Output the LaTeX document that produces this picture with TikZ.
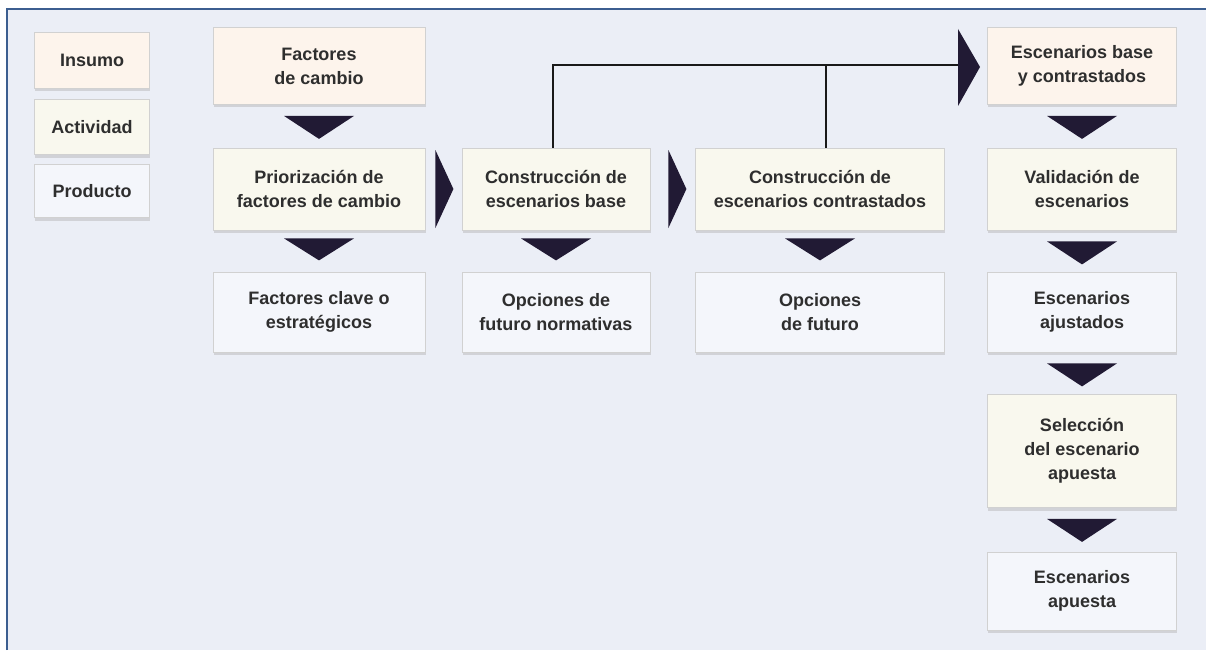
\documentclass[tikz,border=0pt]{standalone}
\usepackage{fontspec}
\setmainfont{Liberation Sans}
\usetikzlibrary{shadows,calc}
\definecolor{bgc}{HTML}{EBEEF6}
\definecolor{framec}{HTML}{3C5E90}
\definecolor{insc}{HTML}{FDF4EC}
\definecolor{actc}{HTML}{F9F8EE}
\definecolor{proc}{HTML}{F4F6FB}
\definecolor{tric}{HTML}{211A34}
\tikzset{
  box/.style={draw=black!18, line width=0.8pt, align=center, inner sep=2pt,
    font=\fontsize{18}{24}\selectfont\bfseries, text=black!82,
    drop shadow={shadow xshift=0.5pt, shadow yshift=-3pt, fill=black!30, opacity=0.45}},
  insumo/.style={box, fill=insc},
  activ/.style={box, fill=actc},
  prod/.style={box, fill=proc},
  tri/.style={fill=tric},
  conn/.style={draw=black!90, line width=2.4pt}
}
\begin{document}
\begin{tikzpicture}[x=1pt,y=-1pt]
\useasboundingbox (0,0) rectangle (1206,650);
\fill[white] (0,0) rectangle (1206,650);
\fill[bgc] (7,9) rectangle (1206,650);
\draw[framec, line width=2.5pt] (7,650) -- (7,9) -- (1206,9);

% legend
\node[insumo, minimum width=115pt, minimum height=56pt] (ins) at (92,60) {Insumo};
\node[activ, minimum width=115pt, minimum height=55pt] (act) at (92,127) {Actividad};
\node[prod, minimum width=115pt, minimum height=53pt] (pro) at (92,191) {Producto};

% column 1
\node[insumo, minimum width=212pt, minimum height=77pt] (fc) at (319,66) {Factores\\de cambio};
\node[activ, minimum width=212pt, minimum height=82pt] (pf) at (319,189) {Priorización de\\factores de cambio};
\node[prod, minimum width=212pt, minimum height=80pt] (fk) at (319,312) {Factores clave o\\estratégicos};

% column 2
\node[activ, minimum width=188pt, minimum height=82pt] (cb) at (556,189) {Construcción de\\escenarios base};
\node[prod, minimum width=188pt, minimum height=80pt] (on) at (556,312) {Opciones de\\futuro normativas};

% column 3
\node[activ, minimum width=249pt, minimum height=82pt] (cc) at (820,189) {Construcción de\\escenarios contrastados};
\node[prod, minimum width=249pt, minimum height=80pt] (of) at (820,312) {Opciones\\de futuro};

% column 4
\node[insumo, minimum width=189pt, minimum height=77pt] (ebc) at (1082,66) {Escenarios base\\y contrastados};
\node[activ, minimum width=189pt, minimum height=82pt] (ve) at (1082,189) {Validación de\\escenarios};
\node[prod, minimum width=189pt, minimum height=80pt] (ea) at (1082,312) {Escenarios\\ajustados};
\node[activ, minimum width=189pt, minimum height=113pt] (se) at (1082,451) {Selección\\del escenario\\apuesta};
\node[prod, minimum width=189pt, minimum height=78pt] (eap) at (1082,591) {Escenarios\\apuesta};

% down triangles
\foreach \a in {fc,ebc,ve,ea,se}{
  \fill[tri] ($(\a.south)+(-35,11)$) -- ++(70,0) -- ($(\a.south)+(0,34)$) -- cycle;
}
\foreach \a in {pf,cb,cc}{
  \fill[tri] ($(\a.south)+(-35,8)$) -- ++(70,0) -- ($(\a.south)+(0,30)$) -- cycle;
}

% right triangles
\fill[tri] ($(pf.east)+(10,-39)$) -- ($(pf.east)+(28,0)$) -- ($(pf.east)+(10,39)$) -- cycle;
\fill[tri] ($(cb.east)+(18,-39)$) -- ($(cb.east)+(36,0)$) -- ($(cb.east)+(18,39)$) -- cycle;

% connector to scenarios
\coordinate (jn) at (960,65);
\draw[conn] ([xshift=-3pt]cb.north) |- (jn);
\draw[conn] ([xshift=6pt]cc.north) -- ([xshift=6pt]cc.north |- jn);
\fill[tri] (958,29) -- (980,67) -- (958,106) -- cycle;
\end{tikzpicture}
\end{document}
